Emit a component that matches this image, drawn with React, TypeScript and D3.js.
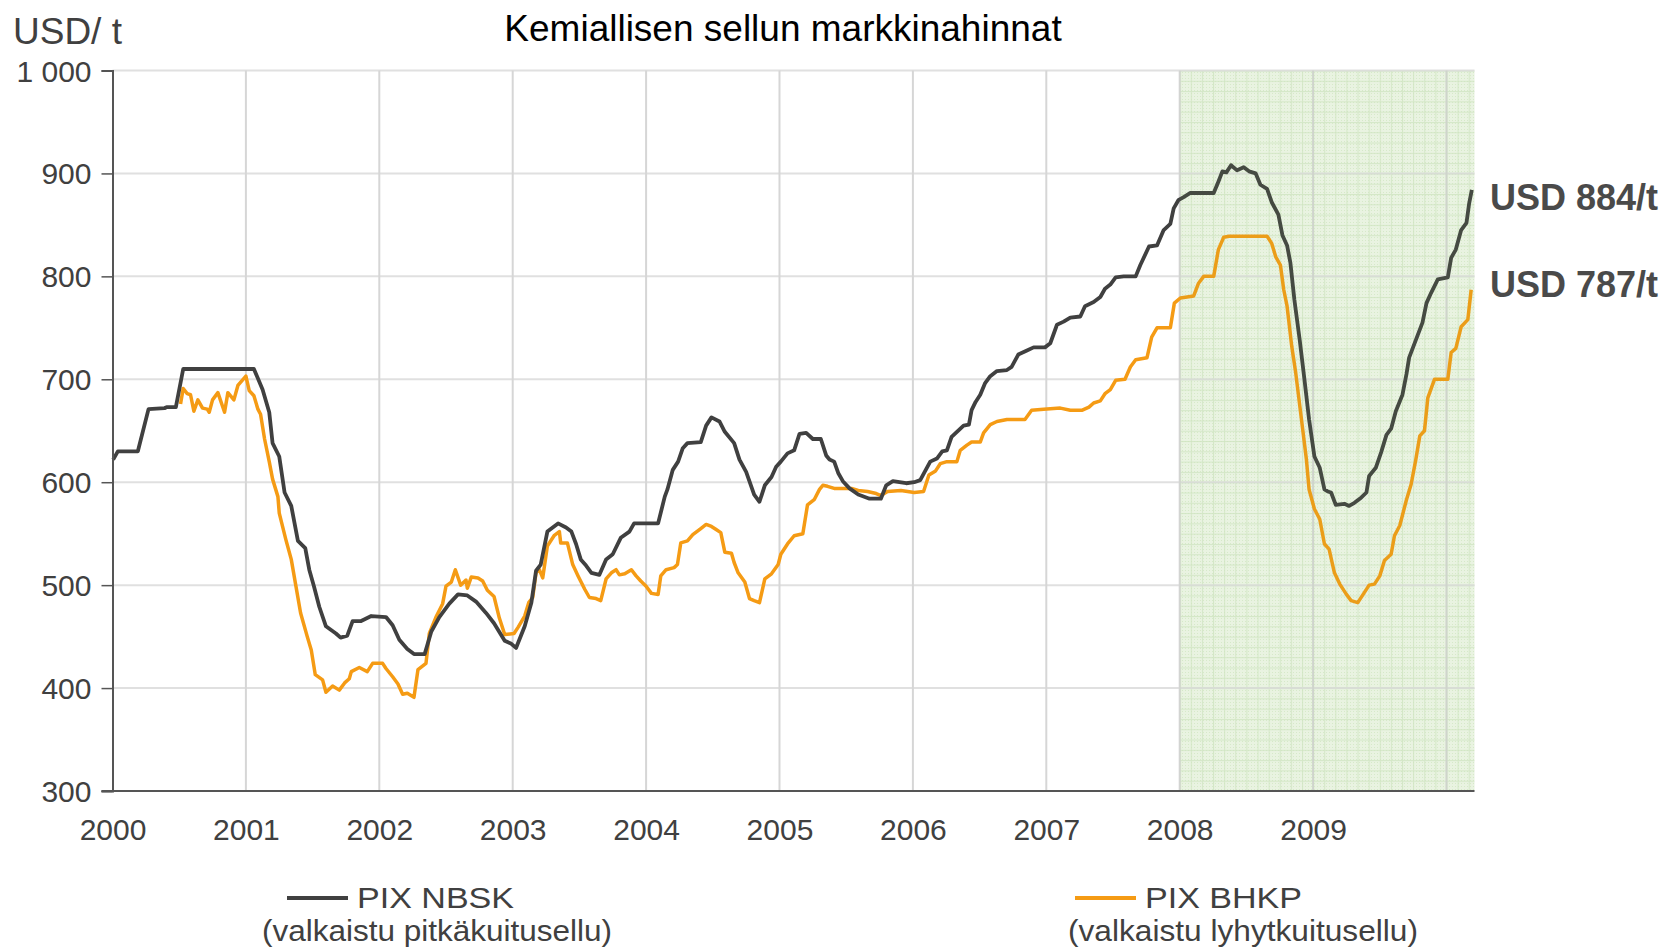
import React, { useEffect, useRef } from 'react';
import * as d3 from 'd3';

const W = 1669;
const H = 949;

const title = 'Kemiallisen sellun markkinahinnat';
const unitLabel = 'USD/ t';
const yTicks = [300, 400, 500, 600, 700, 800, 900, 1000];
const xTicks = [2000, 2001, 2002, 2003, 2004, 2005, 2006, 2007, 2008, 2009];
const shadeFrom = 2008;
const lastDate = 2010.21;
const endLabels = ['USD 884/t', 'USD 787/t'];

// PIX NBSK, [decimal year, USD/t]
const nbsk: [number, number][] = [
  [2000.005, 622], [2000.04, 630], [2000.19, 630], [2000.27, 671], [2000.39, 672],
  [2000.41, 673], [2000.475, 673], [2000.53, 710], [2001.06, 710], [2001.125, 690],
  [2001.175, 668], [2001.2, 638], [2001.25, 625], [2001.29, 590], [2001.34, 577],
  [2001.39, 543], [2001.445, 536], [2001.475, 515], [2001.51, 499], [2001.55, 479],
  [2001.6, 460], [2001.675, 453], [2001.71, 449], [2001.76, 451], [2001.8, 465],
  [2001.86, 465], [2001.94, 470], [2002.05, 469], [2002.1, 461], [2002.15, 447],
  [2002.21, 438], [2002.26, 433], [2002.34, 433], [2002.39, 455], [2002.45, 469],
  [2002.525, 482], [2002.59, 491], [2002.66, 490], [2002.725, 484], [2002.8, 473],
  [2002.86, 463], [2002.94, 446], [2002.99, 443], [2003.025, 439], [2003.09, 460],
  [2003.14, 483], [2003.175, 514], [2003.21, 520], [2003.26, 552], [2003.34, 560],
  [2003.4, 556], [2003.44, 552], [2003.475, 540], [2003.51, 525], [2003.55, 519],
  [2003.59, 512], [2003.65, 510], [2003.7, 525], [2003.75, 530], [2003.81, 546],
  [2003.875, 552], [2003.91, 560], [2004.09, 560], [2004.14, 586], [2004.16, 593],
  [2004.2, 612], [2004.24, 620], [2004.275, 633], [2004.31, 638], [2004.41, 639],
  [2004.45, 655], [2004.49, 663], [2004.55, 659], [2004.59, 649], [2004.66, 638],
  [2004.7, 622], [2004.75, 610], [2004.81, 588], [2004.85, 581], [2004.89, 597],
  [2004.94, 605], [2004.975, 615], [2005.01, 620], [2005.06, 628], [2005.11, 631],
  [2005.15, 647], [2005.2, 648], [2005.25, 642], [2005.31, 642], [2005.35, 626],
  [2005.375, 622], [2005.41, 620], [2005.44, 609], [2005.475, 601], [2005.525, 594],
  [2005.59, 588], [2005.675, 584], [2005.76, 584], [2005.8, 597], [2005.85, 601],
  [2005.95, 599], [2006.01, 600], [2006.055, 602], [2006.13, 620], [2006.18, 623],
  [2006.22, 630], [2006.255, 631], [2006.29, 644], [2006.33, 649], [2006.38, 655],
  [2006.42, 656], [2006.44, 670], [2006.47, 678], [2006.505, 685], [2006.54, 696],
  [2006.58, 703], [2006.63, 708], [2006.705, 709], [2006.74, 712], [2006.79, 724],
  [2006.855, 728], [2006.905, 731], [2006.99, 731], [2007.03, 735], [2007.08, 753],
  [2007.13, 756], [2007.18, 760], [2007.255, 761], [2007.29, 771], [2007.355, 775],
  [2007.405, 780], [2007.44, 788], [2007.48, 792], [2007.52, 799], [2007.58, 800],
  [2007.67, 800], [2007.705, 811], [2007.77, 829], [2007.83, 830], [2007.88, 845],
  [2007.93, 851], [2007.955, 866], [2007.99, 874], [2008.03, 877], [2008.08, 881],
  [2008.255, 881], [2008.29, 892], [2008.32, 902], [2008.35, 901], [2008.385, 908],
  [2008.43, 903], [2008.48, 906], [2008.52, 902], [2008.57, 900], [2008.605, 889],
  [2008.655, 885], [2008.69, 872], [2008.74, 860], [2008.77, 840], [2008.805, 830],
  [2008.83, 813], [2008.86, 777], [2008.9, 738], [2008.935, 700], [2008.97, 661],
  [2009.01, 625], [2009.05, 614], [2009.085, 593], [2009.11, 591], [2009.135, 590],
  [2009.17, 578], [2009.235, 579], [2009.27, 577], [2009.31, 580], [2009.36, 585],
  [2009.4, 590], [2009.42, 606], [2009.47, 614], [2009.51, 629], [2009.55, 646],
  [2009.585, 652], [2009.62, 669], [2009.67, 685], [2009.7, 705], [2009.72, 721],
  [2009.77, 738], [2009.82, 755], [2009.85, 774], [2009.885, 784], [2009.935, 797],
  [2010.01, 799], [2010.035, 818], [2010.07, 826], [2010.11, 845], [2010.15, 852],
  [2010.17, 871], [2010.19, 884],
];

// PIX BHKP, [decimal year, USD/t]
const bhkp: [number, number][] = [
  [2000.51, 676], [2000.53, 691], [2000.56, 686], [2000.585, 685], [2000.61, 669],
  [2000.64, 680], [2000.675, 672], [2000.71, 671], [2000.725, 668], [2000.75, 680],
  [2000.79, 687], [2000.84, 668], [2000.865, 687], [2000.91, 680], [2000.94, 694],
  [2001.0, 703], [2001.025, 689], [2001.06, 684], [2001.09, 671], [2001.11, 666],
  [2001.14, 642], [2001.175, 620], [2001.2, 603], [2001.24, 586], [2001.25, 570],
  [2001.3, 544], [2001.34, 525], [2001.375, 499], [2001.41, 473], [2001.46, 450],
  [2001.49, 437], [2001.52, 413], [2001.575, 408], [2001.6, 396], [2001.65, 402],
  [2001.7, 398], [2001.74, 405], [2001.775, 409], [2001.79, 416], [2001.85, 420],
  [2001.91, 416], [2001.95, 424], [2002.025, 424], [2002.05, 419], [2002.1, 411],
  [2002.14, 404], [2002.175, 394], [2002.21, 395], [2002.26, 391], [2002.29, 418],
  [2002.35, 424], [2002.375, 453], [2002.425, 469], [2002.475, 482], [2002.5, 499],
  [2002.54, 503], [2002.57, 515], [2002.61, 500], [2002.65, 505], [2002.66, 497],
  [2002.69, 508], [2002.74, 507], [2002.775, 504], [2002.81, 495], [2002.86, 489],
  [2002.9, 468], [2002.94, 452], [2003.01, 453], [2003.04, 459], [2003.09, 470],
  [2003.12, 483], [2003.15, 488], [2003.175, 512], [2003.2, 515], [2003.225, 507],
  [2003.26, 538], [2003.31, 548], [2003.35, 552], [2003.36, 541], [2003.41, 541],
  [2003.45, 520], [2003.49, 509], [2003.54, 496], [2003.575, 488], [2003.625, 487],
  [2003.66, 485], [2003.7, 506], [2003.74, 512], [2003.775, 515], [2003.8, 510],
  [2003.84, 511], [2003.89, 515], [2003.925, 509], [2003.96, 504], [2004.0, 499],
  [2004.04, 492], [2004.09, 491], [2004.11, 509], [2004.15, 515], [2004.21, 517],
  [2004.235, 520], [2004.26, 541], [2004.31, 543], [2004.35, 549], [2004.41, 555],
  [2004.45, 559], [2004.49, 557], [2004.525, 554], [2004.56, 551], [2004.59, 532],
  [2004.64, 531], [2004.66, 522], [2004.69, 512], [2004.74, 503], [2004.775, 487],
  [2004.81, 485], [2004.85, 483], [2004.89, 506], [2004.94, 511], [2004.99, 520],
  [2005.01, 530], [2005.06, 540], [2005.11, 548], [2005.175, 550], [2005.21, 578],
  [2005.26, 583], [2005.3, 593], [2005.325, 597], [2005.36, 596], [2005.41, 594],
  [2005.54, 594], [2005.59, 592], [2005.66, 591], [2005.725, 589], [2005.76, 587],
  [2005.81, 591], [2005.91, 592], [2006.01, 590], [2006.08, 591], [2006.12, 607],
  [2006.17, 611], [2006.205, 618], [2006.255, 620], [2006.33, 620], [2006.355, 631],
  [2006.405, 636], [2006.44, 639], [2006.505, 639], [2006.53, 648], [2006.58, 656],
  [2006.63, 659], [2006.705, 661], [2006.84, 661], [2006.89, 670], [2006.98, 671],
  [2007.105, 672], [2007.18, 670], [2007.27, 670], [2007.32, 673], [2007.355, 677],
  [2007.405, 679], [2007.44, 686], [2007.48, 690], [2007.52, 699], [2007.59, 700],
  [2007.63, 712], [2007.67, 719], [2007.755, 721], [2007.79, 741], [2007.83, 750],
  [2007.93, 750], [2007.96, 774], [2008.005, 779], [2008.105, 781], [2008.14, 793],
  [2008.18, 800], [2008.255, 800], [2008.29, 826], [2008.33, 838], [2008.37, 839],
  [2008.655, 839], [2008.69, 832], [2008.72, 819], [2008.755, 811], [2008.78, 787],
  [2008.805, 771], [2008.84, 732], [2008.87, 706], [2008.91, 664], [2008.95, 622],
  [2008.97, 593], [2009.01, 574], [2009.05, 564], [2009.085, 540], [2009.12, 535],
  [2009.16, 512], [2009.2, 501], [2009.25, 491], [2009.285, 485], [2009.335, 483],
  [2009.385, 493], [2009.42, 500], [2009.46, 501], [2009.5, 509], [2009.535, 524],
  [2009.585, 530], [2009.61, 548], [2009.65, 558], [2009.7, 583], [2009.735, 598],
  [2009.77, 622], [2009.8, 645], [2009.835, 650], [2009.86, 682], [2009.91, 700],
  [2010.01, 700], [2010.035, 726], [2010.07, 730], [2010.11, 751], [2010.16, 758],
  [2010.185, 787],
];

const legendItems = [
  { name: 'PIX NBSK', sub: '(valkaistu pitkäkuitusellu)', color: '#404040', x: 287, subX: 262 },
  { name: 'PIX BHKP', sub: '(valkaistu lyhytkuitusellu)', color: '#F59B14', x: 1075, subX: 1068 },
];

const FONT = '"Liberation Sans", Arial, sans-serif';

export default function App() {
  const ref = useRef<SVGSVGElement>(null);

  useEffect(() => {
    const svg = d3.select(ref.current);
    svg.selectAll('*').remove();

    const x = d3.scaleLinear().domain([2000, lastDate]).range([112.5, 1474.5]);
    const y = d3.scaleLinear().domain([300, 1000]).range([791, 70.5]);
    const [x0, x1] = x.range();
    const [yb, yt] = y.range();

    // texture for the shaded period
    const defs = svg.append('defs');
    const mw = x(2000 + 1 / 12) - x(2000);
    const mh = y(300) - y(310);
    const minor = defs
      .append('pattern')
      .attr('id', 'minor')
      .attr('patternUnits', 'userSpaceOnUse')
      .attr('x', x(shadeFrom))
      .attr('y', yt)
      .attr('width', mw)
      .attr('height', mh);
    minor.append('rect').attr('width', mw).attr('height', mh).attr('fill', '#f2f8ed');
    minor.append('line').attr('x1', 0.5).attr('x2', 0.5).attr('y1', 0).attr('y2', mh)
      .attr('stroke', '#dcebd1').attr('stroke-width', 1);
    minor.append('line').attr('x1', 0).attr('x2', mw).attr('y1', 0.5).attr('y2', 0.5)
      .attr('stroke', '#dcebd1').attr('stroke-width', 1);
    const dots = defs
      .append('pattern')
      .attr('id', 'dots')
      .attr('patternUnits', 'userSpaceOnUse')
      .attr('width', 3)
      .attr('height', 3);
    dots.append('rect').attr('width', 1).attr('height', 1).attr('fill', '#d6e9c8').attr('opacity', 0.7);

    svg.append('rect')
      .attr('x', x(shadeFrom)).attr('y', yt)
      .attr('width', x1 - x(shadeFrom)).attr('height', yb - yt)
      .attr('fill', 'url(#minor)');
    svg.append('rect')
      .attr('x', x(shadeFrom)).attr('y', yt)
      .attr('width', x1 - x(shadeFrom)).attr('height', yb - yt)
      .attr('fill', 'url(#dots)');

    // gridlines
    svg.append('g')
      .selectAll('line')
      .data(yTicks.filter(d => d > 300))
      .join('line')
      .attr('x1', x0).attr('x2', x1)
      .attr('y1', d => y(d)).attr('y2', d => y(d))
      .attr('stroke', '#e0e0e0').attr('stroke-width', 2);
    svg.append('g')
      .selectAll('line')
      .data(xTicks.filter(d => d > 2000).concat([2010]))
      .join('line')
      .attr('x1', d => x(d)).attr('x2', d => x(d))
      .attr('y1', yt).attr('y2', yb)
      .attr('stroke', '#d6d6d6').attr('stroke-width', 2);

    // series
    const line = d3.line<[number, number]>()
      .x(d => x(d[0]))
      .y(d => y(d[1]));
    svg.append('path').datum(bhkp).attr('d', line)
      .attr('fill', 'none').attr('stroke', legendItems[1].color)
      .attr('stroke-width', 3.5).attr('stroke-linejoin', 'round');
    svg.append('path').datum(nbsk).attr('d', line)
      .attr('fill', 'none').attr('stroke', legendItems[0].color)
      .attr('stroke-width', 3.8).attr('stroke-linejoin', 'round');

    // green tint over the shaded period
    svg.append('rect')
      .attr('x', x(shadeFrom)).attr('y', yt)
      .attr('width', x1 - x(shadeFrom)).attr('height', yb - yt)
      .attr('fill', '#7fbf5a').attr('opacity', 0.08);

    // axes
    const yAxis = svg.append('g').attr('transform', `translate(${x0},0)`)
      .call(d3.axisLeft(y).tickValues(yTicks).tickSize(11).tickPadding(10)
        .tickFormat(d => d3.format(',')(d as number).replace(',', ' ')));
    yAxis.select('.domain').attr('stroke', '#555').attr('stroke-width', 2);
    yAxis.selectAll('.tick line').attr('stroke', '#555').attr('stroke-width', 1.5);
    yAxis.selectAll('.tick text')
      .attr('fill', '#404040').attr('font-size', 30).attr('font-family', FONT).attr('dy', '0.35em');

    const xAxis = svg.append('g').attr('transform', `translate(0,${yb})`)
      .call(d3.axisBottom(x).tickValues(xTicks).tickSize(0).tickPadding(28)
        .tickFormat(d => String(d)));
    xAxis.select('.domain').remove();
    xAxis.selectAll('.tick text')
      .attr('fill', '#404040').attr('font-size', 30).attr('font-family', FONT).attr('dy', '0.71em');
    svg.append('line')
      .attr('x1', x0 - 11).attr('x2', x1).attr('y1', yb).attr('y2', yb)
      .attr('stroke', '#555').attr('stroke-width', 2);

    // texts
    svg.append('text').text(title)
      .attr('x', 783).attr('y', 41).attr('text-anchor', 'middle')
      .attr('font-size', 37).attr('font-family', FONT).attr('fill', '#000');
    svg.append('text').text(unitLabel)
      .attr('x', 13).attr('y', 44).attr('font-size', 37)
      .attr('font-family', FONT).attr('fill', '#404040');

    svg.append('g')
      .selectAll('text')
      .data([nbsk[nbsk.length - 1], bhkp[bhkp.length - 1]])
      .join('text')
      .text((d, i) => endLabels[i])
      .attr('x', 1490)
      .attr('y', (d, i) => (i === 0 ? 210 : 297))
      .attr('font-size', 36).attr('font-weight', 'bold')
      .attr('font-family', FONT).attr('fill', '#4a4a4a');

    // legend
    const lg = svg.append('g').selectAll('g').data(legendItems).join('g');
    lg.append('line')
      .attr('x1', d => d.x).attr('x2', d => d.x + 61)
      .attr('y1', 898).attr('y2', 898)
      .attr('stroke', d => d.color).attr('stroke-width', 4);
    lg.append('text').text(d => d.name)
      .attr('x', d => d.x + 70).attr('y', 908)
      .attr('font-size', 30).attr('font-family', FONT).attr('fill', '#404040')
      .attr('textLength', 157)
      .attr('lengthAdjust', 'spacingAndGlyphs');
    lg.append('text').text(d => d.sub)
      .attr('x', d => d.subX).attr('y', 941)
      .attr('font-size', 30).attr('font-family', FONT).attr('fill', '#404040')
      .attr('textLength', 350)
      .attr('lengthAdjust', 'spacingAndGlyphs');
  }, []);

  return (
    <svg
      ref={ref}
      width={W}
      height={H}
      style={{ position: 'absolute', left: 0, top: 0, background: '#fff' }}
    />
  );
}
